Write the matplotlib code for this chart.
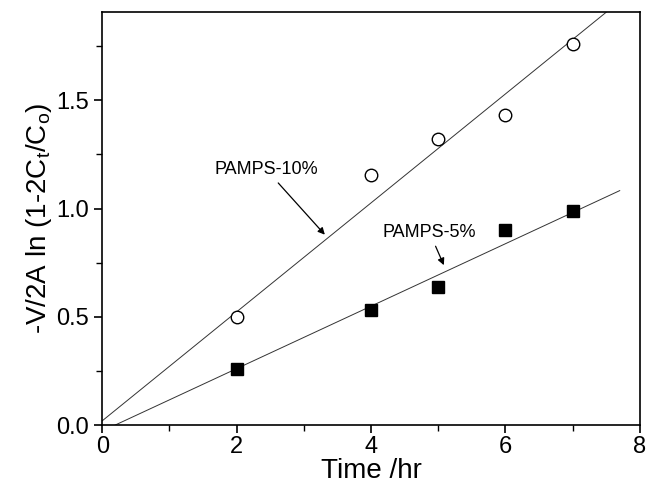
import matplotlib.pyplot as plt
import numpy as np
from matplotlib.ticker import MultipleLocator

plt.rcParams['font.family'] = ['Liberation Sans', 'DejaVu Sans']
plt.rcParams['mathtext.fontset'] = 'custom'
plt.rcParams['mathtext.rm'] = 'Liberation Sans'
plt.rcParams['mathtext.it'] = 'Liberation Sans'

# measured points
time_hr = [2, 4, 5, 6, 7]
pamps10 = [0.50, 1.157, 1.32, 1.43, 1.76]
pamps5 = [0.26, 0.53, 0.64, 0.90, 0.99]

# fitted lines (end points)
fit10_x = [0.0, 7.5]
fit10_y = [0.02, 1.907]
fit5_x = [0.19, 7.7]
fit5_y = [0.0, 1.083]

fig = plt.figure(figsize=(6.47, 4.87), dpi=100)
ax = fig.add_axes([0.158, 0.127, 0.831, 0.848])

ax.plot(fit10_x, fit10_y, color='#333333', lw=0.7)
ax.plot(fit5_x, fit5_y, color='#333333', lw=0.7)
ax.plot(time_hr, pamps10, 'o', mfc='white', mec='black', mew=1.0, ms=9)
ax.plot(time_hr, pamps5, 's', color='black', ms=8)

arrow = dict(arrowstyle='-|>', color='black', lw=0.9, mutation_scale=10)
ax.annotate('PAMPS-10%', xy=(3.34, 0.87), xytext=(2.44, 1.18),
            ha='center', va='center', fontsize=13, arrowprops=arrow)
ax.annotate('PAMPS-5%', xy=(5.1, 0.727), xytext=(4.87, 0.89),
            ha='center', va='center', fontsize=13, arrowprops=arrow)

ax.set_xlim(0, 8)
ax.set_ylim(0, 1.907)
ax.xaxis.set_major_locator(MultipleLocator(2))
ax.xaxis.set_minor_locator(MultipleLocator(1))
ax.yaxis.set_major_locator(MultipleLocator(0.5))
ax.yaxis.set_minor_locator(MultipleLocator(0.25))
ax.tick_params(which='major', direction='out', length=6, width=1.2, labelsize=17)
ax.tick_params(axis='x', which='major', pad=2)
ax.tick_params(which='minor', direction='out', length=4, width=1.0)
for s in ax.spines.values():
    s.set_linewidth(1.2)

ax.set_xlabel('Time /hr', fontsize=20, labelpad=0)
ax.set_ylabel(r'-V/2A ln (1-2C$_t$/C$_o$)', fontsize=20, labelpad=2)

fig.savefig('out.png', dpi=100)
